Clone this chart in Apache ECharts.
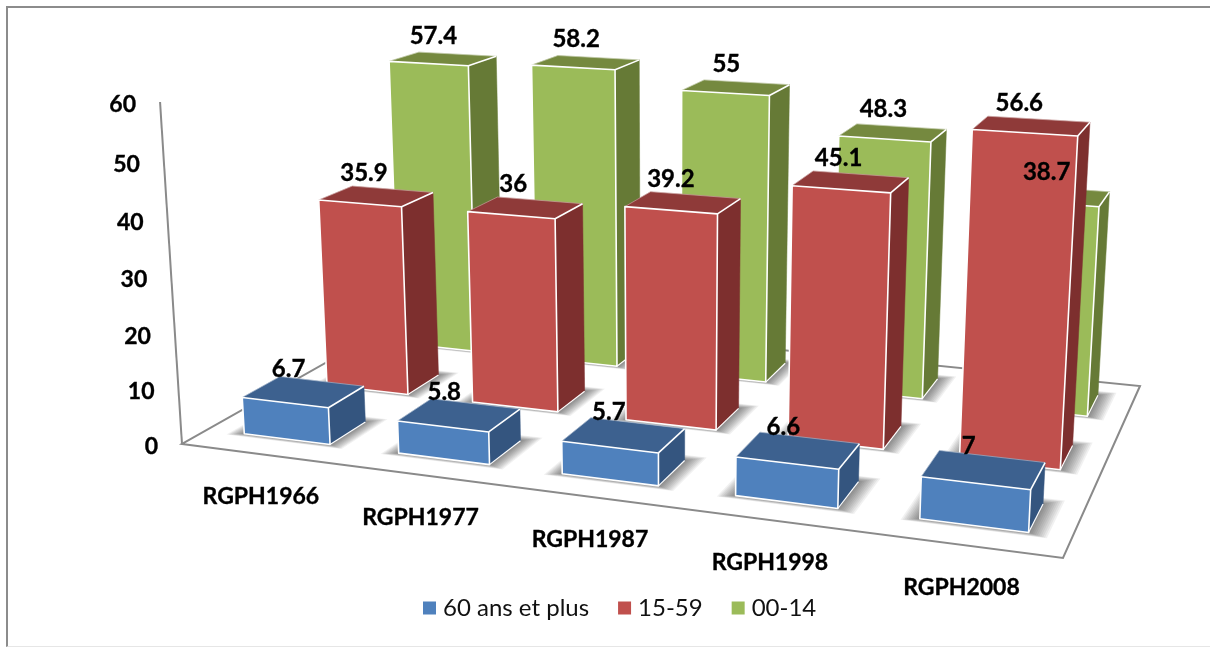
<!DOCTYPE html>
<html>
<head>
<meta charset="utf-8">
<style>html,body{margin:0;padding:0;background:#fff;overflow:hidden}#c{width:1210px;height:648px}
#frame{position:absolute;left:6px;top:6px;width:1210px;height:641px;border-left:2px solid #8c8c8c;border-top:2px solid #8c8c8c;border-bottom:1px solid #e6e6e6;box-sizing:border-box;pointer-events:none}</style>
<script src="https://cdn.jsdelivr.net/npm/echarts@6/dist/echarts.min.js"></script>
</head>
<body>
<div id="c"></div>
<div id="frame"></div>
<script>
// Population by age group across the five censuses
const categories = ['RGPH1966', 'RGPH1977', 'RGPH1987', 'RGPH1998', 'RGPH2008'];
const seniors = [6.7, 5.8, 5.7, 6.6, 7];
const adults = [35.9, 36, 39.2, 45.1, 56.6];
const children = [57.4, 58.2, 55, 48.3, 38.7];
const yTicks = [0, 10, 20, 30, 40, 50, 60];
const seriesNames = ['60 ans et plus', '15-59', '00-14'];

// Camera: floor quad corners in page pixels, vertical vanishing point, height strength
const FLOOR = [[182, 444], [1063, 558], [1140, 386], [414, 313]];
const VANISH = [667, 8000];
const HEIGHT_K = -0.0433;
const ROW_SHIFT = 0.0045;
const BAR_HALF_W = 0.056, BAR_HALF_D = 0.0725;
const SHADOW_LAYERS = 10;
const FONT = 'Lato';

function makeProjector() {
  const [[x0, y0], [x1, y1], [x2, y2], [x3, y3]] = FLOOR;
  const dx1 = x1 - x2, dx2 = x3 - x2, sx = x0 - x1 + x2 - x3;
  const dy1 = y1 - y2, dy2 = y3 - y2, sy = y0 - y1 + y2 - y3;
  const den = dx1 * dy2 - dx2 * dy1;
  const g = (sx * dy2 - dx2 * sy) / den;
  const h = (dx1 * sy - sx * dy1) / den;
  const a = x1 - x0 + g * x1, b = x3 - x0 + h * x3;
  const d = y1 - y0 + g * y1, e = y3 - y0 + h * y3;
  // s along categories, t into depth, f fraction of the value axis
  return (s, t, f) => {
    const w = g * s + h * t + 1 + f * HEIGHT_K;
    return [
      (a * s + b * t + x0 + f * HEIGHT_K * VANISH[0]) / w,
      (d * s + e * t + y0 + f * HEIGHT_K * VANISH[1]) / w
    ];
  };
}
const project = makeProjector();

// Convert a data pair to normalised plot coordinates through the chart's own axes
function toUnit(params, api, cat, val) {
  const cs = params.coordSys;
  const p = api.coord([cat, val]);
  const s = (p[0] - cs.x) / cs.width;
  return { s: s + ROW_SHIFT * (1 - s), f: (cs.y + cs.height - p[1]) / cs.height };
}

const depthOf = name => (seriesNames.indexOf(name) + 0.5) / seriesNames.length;

const PALETTE = {
  '60 ans et plus': { front: '#4F81BD', side: '#34557F', top: '#3D618F' },
  '15-59': { front: '#C0504D', side: '#7D2F2E', top: '#8F3A39' },
  '00-14': { front: '#9BBB59', side: '#667A36', top: '#75893F' }
};

function boxSeries(name, values, z) {
  const colors = PALETTE[name];
  const t0 = depthOf(name) - BAR_HALF_D, t1 = depthOf(name) + BAR_HALF_D;
  return {
    name, type: 'custom', z, silent: true, clip: false,
    itemStyle: { color: colors.front },
    encode: { x: 0, y: 1 },
    data: values.map((v, i) => [i, v]),
    renderItem(params, api) {
      const { s, f } = toUnit(params, api, api.value(0), api.value(1));
      const s0 = s - BAR_HALF_W, s1 = s + BAR_HALF_W;
      const edge = { stroke: '#fff', lineWidth: 1.6, lineJoin: 'round' };
      const poly = (pts, fill, st) => ({
        type: 'polygon', shape: { points: pts }, style: Object.assign({ fill }, st)
      });
      const fbl = project(s0, t0, 0), fbr = project(s1, t0, 0), bbr = project(s1, t1, 0);
      const ftl = project(s0, t0, f), ftr = project(s1, t0, f);
      const btr = project(s1, t1, f), btl = project(s0, t1, f);
      return {
        type: 'group',
        children: [
          poly([fbr, bbr, btr, ftr], colors.side, { stroke: colors.side, lineWidth: 0.5 }),
          poly([ftl, ftr, btr, btl], colors.top, { stroke: colors.top, lineWidth: 0.5 }),
          poly([fbl, fbr, ftr, ftl], colors.front, edge),
          { type: 'polyline', shape: { points: [ftr, btr] }, style: { stroke: '#fff', lineWidth: 1.6, fill: null } },
          { type: 'polyline', shape: { points: [fbr, bbr] }, style: { stroke: '#fff', lineWidth: 1.2, fill: null } },
          { type: 'polyline', shape: { points: [ftl, btl, btr] }, style: { stroke: 'rgba(255,255,255,0.45)', lineWidth: 0.8, fill: null } }
        ]
      };
    }
  };
}

// Soft cast shadows lie on the floor, built from stacked translucent footprints
function shadowSeries(name, values) {
  const t0 = depthOf(name) - BAR_HALF_D, t1 = depthOf(name) + BAR_HALF_D;
  return {
    type: 'custom', z: 1, silent: true, clip: false,
    encode: { x: 0, y: 1 },
    data: values.map((v, i) => [i, v]),
    renderItem(params, api) {
      const { s } = toUnit(params, api, api.value(0), 0);
      const children = [];
      for (let k = 0; k < SHADOW_LAYERS; k++) {
        const r = (SHADOW_LAYERS - k) / SHADOW_LAYERS;
        const l = s - BAR_HALF_W - r * 0.018, rt = s + BAR_HALF_W + r * 0.02;
        const fr = t0 - r * 0.016, bk = t1 + r * 0.03;
        children.push({
          type: 'polygon',
          shape: { points: [project(l, fr, 0), project(rt, fr, 0), project(rt, bk, 0), project(l, bk, 0)] },
          style: { fill: 'rgba(0,0,0,0.055)' }
        });
      }
      return { type: 'group', children };
    }
  };
}

const labelStyle = size => ({
  fontFamily: FONT, fontWeight: 'bold', fontSize: size, fill: '#000', stroke: '#000', lineWidth: 0.35
});

const floorSeries = {
  type: 'custom', z: 0, silent: true, clip: false,
  encode: { x: 0, y: 1 },
  data: [[0, 60]],
  renderItem(params, api) {
    const { f } = toUnit(params, api, 0, api.value(1));
    const line = { stroke: '#8a8a8a', lineWidth: 2, fill: null };
    const q = [project(0, 0, 0), project(1, 0, 0), project(1, 1, 0), project(0, 1, 0)];
    return {
      type: 'group',
      children: [
        { type: 'polygon', shape: { points: q }, style: Object.assign({}, line, { fill: '#fff', lineJoin: 'miter' }) },
        { type: 'polyline', shape: { points: [project(0, 0, 0), project(0, 0, f)] }, style: line }
      ]
    };
  }
};

const yTickSeries = {
  type: 'custom', z: 6, silent: true, clip: false,
  encode: { x: 0, y: 1 },
  data: yTicks.map(v => [0, v]),
  renderItem(params, api) {
    const { f } = toUnit(params, api, 0, api.value(1));
    const p = project(0, 0, f);
    return {
      type: 'text', x: p[0] - 24, y: p[1] + 3,
      style: Object.assign({ text: String(api.value(1)), align: 'right', verticalAlign: 'middle' }, labelStyle(23))
    };
  }
};

const xTickSeries = {
  type: 'custom', z: 6, silent: true, clip: false,
  encode: { x: 0, y: 1 },
  data: categories.map((c, i) => [i, 0]),
  renderItem(params, api) {
    const i = api.value(0);
    const { s } = toUnit(params, api, i, 0);
    const p = project(s, 0, 0);
    return {
      type: 'text', x: p[0] - 1, y: p[1] + 42.5,
      style: Object.assign({ text: categories[i], align: 'center', verticalAlign: 'middle' }, labelStyle(23))
    };
  }
};

// Value labels sit above every bar, including the ones in front
function valueLabelSeries(name, values) {
  const t = depthOf(name);
  return {
    type: 'custom', z: 8, silent: true, clip: false,
    encode: { x: 0, y: 1 },
    data: values.map((v, i) => [i, v]),
    renderItem(params, api) {
      const { s, f } = toUnit(params, api, api.value(0), api.value(1));
      const p = project(s, t, f);
      return {
        type: 'text', x: p[0] - 15 + (t - 0.167) * 8, y: p[1] - 23,
        style: Object.assign({ text: String(api.value(1)), align: 'center', verticalAlign: 'middle' }, labelStyle(24))
      };
    }
  };
}

const chart = echarts.init(document.getElementById('c'));
chart.setOption({
  animation: false,
  backgroundColor: '#fff',
  grid: { left: 200, top: 100, width: 600, height: 300, show: false },
  xAxis: { type: 'category', data: categories, show: false },
  yAxis: { type: 'value', min: 0, max: 60, interval: 10, show: false },
  legend: {
    data: seriesNames, left: 418, top: 591, icon: 'rect',
    itemWidth: 13, itemHeight: 13, itemGap: 29,
    textStyle: { fontFamily: FONT, fontSize: 24, color: '#111', padding: [0, 0, 0, 2] }
  },
  series: [
    floorSeries,
    shadowSeries('00-14', children),
    shadowSeries('15-59', adults),
    shadowSeries('60 ans et plus', seniors),
    boxSeries('00-14', children, 2),
    boxSeries('15-59', adults, 3),
    boxSeries('60 ans et plus', seniors, 4),
    yTickSeries,
    xTickSeries,
    valueLabelSeries('00-14', children),
    valueLabelSeries('15-59', adults),
    valueLabelSeries('60 ans et plus', seniors)
  ]
});
</script>
</body>
</html>
